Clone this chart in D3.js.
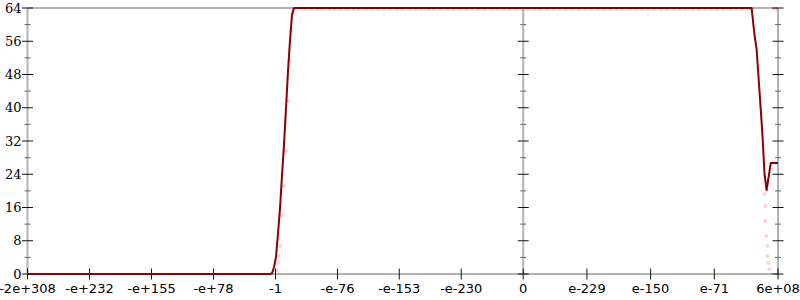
<!DOCTYPE html>
<html>
<head>
<meta charset="utf-8">
<script src="https://cdn.jsdelivr.net/npm/d3@7"></script>
<style>
  body { margin: 0; background: #fff; }
</style>
</head>
<body>
<div id="chart"></div>
<script>
// x values are in float-ordinal units (roughly exponent steps), y values are bits
const xTickValues = [-2047, -1791, -1535, -1279, -1023, -767, -512, -256, 0, 263, 526, 789, 1052];
const xTickLabels = ["-2e+308", "-e+232", "-e+155", "-e+78", "-1", "-e-76", "-e-153", "-e-230", "0", "e-229", "e-150", "e-71", "6e+08"];
const yMajorTicks = [0, 8, 16, 24, 32, 40, 48, 56, 64];
const yMinorTicks = [4, 12, 20, 28, 36, 44, 52, 60];

const lineX = [-2047, -1046, -1037, -1029, -1021, -1013, -1004, -996, -988, -980, -971, -963, -955, -947, 943, 955, 964, 972, 978, 984, 989, 996, 1005, 1022, 1052];
const lineY = [0, 0, 0.2, 1.7, 4.1, 9.4, 16.1, 23.8, 31.0, 39.5, 49.1, 56.3, 62.3, 64, 64, 57.5, 53.9, 47.0, 41.9, 36.8, 32.2, 24.3, 20.2, 26.7, 26.7];

const sampleX = [-1017, -1013, -1009, -1004, -996, -988, -980, -971, -963, -959, -951,
  -945, -920, -900, -875, -850, -830, -800, -780, -755, -730, -700, -680, -650, -625, -600, -575, -550, -520, -500, -470,
  -445, -420, -390, -370, -340, -315, -290, -260, -235, -210, -185, -160, -130, -105, -80, -55, -30, -5,
  20, 45, 70, 100, 125, 150, 175, 200, 230, 255, 280, 310, 335, 360, 385, 410, 440, 465, 490, 515, 540,
  570, 595, 620, 645, 670, 700, 725, 750, 775, 800, 825, 855, 880, 905, 930, 945,
  996, 1000, 1000, 1004, 1008, 1008, 1012, 1016, 1024, 1037, 1033, 1049];
const sampleY = [1.0, 2.9, 4.6, 7.0, 14.2, 21.4, 29.8, 41.9, 51.5, 58.7, 63,
  64, 64, 64, 64, 64, 64, 64, 64, 64, 64, 64, 64, 64, 64, 64, 64, 64, 64, 64, 64,
  64, 64, 64, 64, 64, 64, 64, 64, 64, 64, 64, 64, 64, 64, 64, 64, 64, 64,
  64, 64, 64, 64, 64, 64, 64, 64, 64, 64, 64, 64, 64, 64, 64, 64, 64, 64, 64, 64, 64,
  64, 64, 64, 64, 64, 64, 64, 64, 64, 64, 64, 64, 64, 64, 64, 64,
  19.5, 16.6, 13.0, 9.4, 7.0, 4.6, 2.9, 1.4, 0.2, 0, 64, 64];

const width = 800, height = 300;
const svg = d3.select("#chart").append("svg")
  .attr("width", width)
  .attr("height", height);

const x = d3.scaleLinear().domain([-2047, 1052]).range([27.5, 778]);
const y = d3.scaleLinear().domain([0, 64]).range([274, 8]);

svg.append("defs").append("clipPath").attr("id", "plot-clip")
  .append("rect")
  .attr("x", x.range()[0]).attr("y", y(64))
  .attr("width", x.range()[1] - x.range()[0])
  .attr("height", y(0) - y(64));

// axis frame lines
const axisColor = "#b3b3b3";
const vAxes = [x.domain()[0], 0, x.domain()[1]];
svg.selectAll("line.vaxis")
  .data(vAxes)
  .join("line")
  .attr("class", "vaxis")
  .attr("x1", d => x(d)).attr("x2", d => x(d))
  .attr("y1", y(64)).attr("y2", y(0))
  .attr("stroke", axisColor)
  .attr("stroke-width", 2);

svg.selectAll("line.haxis")
  .data([0, 64])
  .join("line")
  .attr("class", "haxis")
  .attr("x1", x.range()[0]).attr("x2", x.range()[1])
  .attr("y1", d => y(d)).attr("y2", d => y(d))
  .attr("stroke", axisColor)
  .attr("stroke-width", 2);

// y ticks on every vertical axis
vAxes.forEach(v => {
  const cx = x(v);
  svg.append("g").selectAll("line")
    .data(yMinorTicks)
    .join("line")
    .attr("x1", cx - 3).attr("x2", cx + 3)
    .attr("y1", d => y(d)).attr("y2", d => y(d))
    .attr("stroke", "#666")
    .attr("stroke-width", 1);
  svg.append("g").selectAll("line")
    .data(yMajorTicks)
    .join("line")
    .attr("x1", cx - 5.5).attr("x2", cx + 5.5)
    .attr("y1", d => y(d)).attr("y2", d => y(d))
    .attr("stroke", "#111")
    .attr("stroke-width", 1);
});

// y labels
svg.append("g").selectAll("text")
  .data(yMajorTicks)
  .join("text")
  .attr("x", 21.5)
  .attr("y", d => y(d))
  .attr("dy", "0.36em")
  .attr("text-anchor", "end")
  .attr("font-family", "DejaVu Serif, serif")
  .attr("font-size", "13px")
  .attr("fill", "#000")
  .text(d => d);

// x ticks and labels
svg.append("g").selectAll("line")
  .data(xTickValues)
  .join("line")
  .attr("x1", d => x(d)).attr("x2", d => x(d))
  .attr("y1", y(0) - 5.5).attr("y2", y(0) + 5.5)
  .attr("stroke", "#111")
  .attr("stroke-width", 1);

svg.append("g").selectAll("text")
  .data(xTickValues)
  .join("text")
  .attr("x", d => x(d))
  .attr("y", 292.5)
  .attr("text-anchor", "middle")
  .attr("font-family", "DejaVu Sans, sans-serif")
  .attr("font-size", "13px")
  .attr("fill", "#000")
  .text((d, i) => xTickLabels[i]);

// sample points
const plot = svg.append("g").attr("clip-path", "url(#plot-clip)");
plot.selectAll("circle")
  .data(d3.zip(sampleX, sampleY))
  .join("circle")
  .attr("cx", d => x(d[0]))
  .attr("cy", d => y(d[1]) + 1)
  .attr("r", 2)
  .attr("fill", "red")
  .attr("fill-opacity", 0.18);

// error line
const line = d3.line()
  .x(d => x(d[0]))
  .y(d => y(d[1]));

svg.append("path")
  .datum(d3.zip(lineX, lineY))
  .attr("d", line)
  .attr("fill", "none")
  .attr("stroke", "#8b0000")
  .attr("stroke-width", 2)
  .attr("stroke-linejoin", "round");
</script>
</body>
</html>
